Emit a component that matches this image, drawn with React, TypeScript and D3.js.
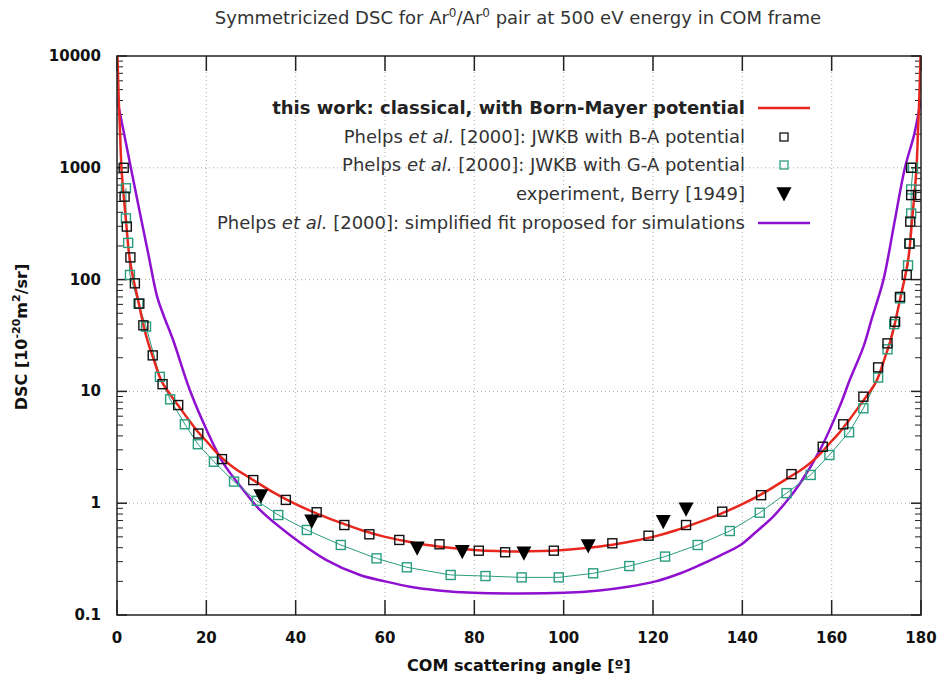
import React from "react";
import * as d3 from "d3";

// ---- data ----
const RED_ANGLE = [0.1, 0.4, 0.7, 1.0, 1.5, 2.0, 2.6, 3.0, 3.7, 4.5, 5.0, 6.0, 7.0, 8.0, 10, 12, 14, 16, 18, 20, 23, 26, 30, 35, 40, 45, 50, 55, 60, 65, 70, 75, 80, 85, 90, 95, 100, 105, 110, 115, 120, 125, 130, 135, 140, 145, 150, 154, 157, 160, 162, 164, 166, 168, 170, 172, 173, 174, 175, 175.5, 176.3, 177, 177.4, 178, 178.5, 179, 179.3, 179.6, 179.9];
const RED_DSC = [10000, 4000, 2000, 1000, 560, 340, 184, 140, 100, 72, 58, 38, 27, 20.5, 12.3, 9.3, 7.2, 5.6, 4.4, 3.6, 2.65, 2.1, 1.66, 1.25, 0.98, 0.8, 0.67, 0.57, 0.5, 0.455, 0.42, 0.397, 0.382, 0.373, 0.37, 0.373, 0.382, 0.397, 0.42, 0.455, 0.5, 0.57, 0.67, 0.8, 0.98, 1.25, 1.66, 2.1, 2.65, 3.6, 4.4, 5.6, 7.2, 9.3, 12.3, 20.5, 27, 38, 58, 72, 100, 140, 184, 340, 560, 1000, 2000, 4000, 10000];

const PURPLE_ANGLE = [0, 1.5, 3.1, 5, 7, 9, 10.5, 12.6, 16.3, 20.1, 23.8, 28.3, 32, 38.7, 46.9, 54.4, 60, 65.6, 72, 79.8, 90, 100, 108, 114.4, 120.6, 126, 130.5, 135, 139.5, 143, 146.9, 150, 152.9, 157.4, 161.9, 164, 167.1, 169, 171.6, 174, 176.4, 178.5, 180];
const PURPLE_DSC = [4100, 2100, 1000, 420, 170, 70, 47, 28.5, 10.3, 4.5, 2.28, 1.31, 0.87, 0.52, 0.31, 0.228, 0.2, 0.179, 0.166, 0.158, 0.156, 0.158, 0.166, 0.179, 0.2, 0.235, 0.28, 0.34, 0.42, 0.55, 0.76, 1.05, 1.5, 3.0, 7.5, 12.5, 25, 45, 100, 316, 1000, 2000, 4100];

const BA_ANGLE = [1.5, 1.7, 2.2, 3.0, 4.0, 5.0, 5.9, 8.0, 10.2, 13.7, 18.2, 23.5, 30.5, 37.8, 44.7, 50.9, 56.5, 63.2, 72.2, 81.0, 86.9, 97.8, 110.9, 119.0, 127.4, 135.5, 144.2, 151.0, 158.0, 162.6, 167.1, 170.4, 172.5, 174.2, 175.3, 176.8, 177.4, 177.6, 177.8, 179.3, 177.8];
const BA_DSC = [1000, 552, 298, 158, 92.6, 61, 39, 21, 11.6, 7.55, 4.2, 2.48, 1.61, 1.07, 0.83, 0.638, 0.527, 0.469, 0.429, 0.376, 0.364, 0.376, 0.438, 0.512, 0.638, 0.84, 1.18, 1.82, 3.2, 5.08, 8.97, 16.4, 26.9, 42, 70, 110, 210, 330, 570, 570, 1000];

const GA_ANGLE = [2.0, 2.0, 2.5, 2.9, 4.8, 6.5, 9.6, 11.9, 15.2, 18.1, 21.7, 26.2, 31.3, 36.1, 42.5, 50.1, 58.1, 64.9, 74.7, 82.5, 90.6, 98.9, 106.6, 114.7, 122.7, 130.0, 137.2, 143.9, 149.9, 155.3, 159.5, 163.9, 167.1, 170.4, 172.5, 174.0, 175.3, 177.1, 177.5, 177.8, 177.8, 178.2];
const GA_DSC = [656, 353, 213, 110, 61, 38, 13.5, 8.5, 5.08, 3.37, 2.35, 1.56, 1.05, 0.784, 0.576, 0.423, 0.321, 0.267, 0.228, 0.223, 0.217, 0.217, 0.236, 0.274, 0.333, 0.423, 0.564, 0.822, 1.23, 1.79, 2.7, 4.31, 7.06, 13.3, 23.8, 40, 68, 134, 210, 390, 640, 1000];

const BERRY_ANGLE = [32.2, 43.6, 67.2, 77.3, 91.1, 105.5, 122.3, 127.4];
const BERRY_DSC = [1.16, 0.69, 0.395, 0.368, 0.356, 0.414, 0.684, 0.881];

const X_TICKS = [0, 20, 40, 60, 80, 100, 120, 140, 160, 180];
const Y_TICKS = [0.1, 1, 10, 100, 1000, 10000];
const Y_TICK_LABELS = ["0.1", "1", "10", "100", "1000", "10000"];

const RED = "#e8281e";
const PURPLE = "#9010d0";
const TEAL = "#2a9d7f";
const TEXT = "#333333";

export default function App() {
  const L = 117, R = 921, T = 56, B = 615;
  const x = d3.scaleLinear().domain([0, 180]).range([L, R]);
  const y = d3.scaleLog().domain([0.1, 10000]).range([B, T]);

  const line = d3.line<[number, number]>().x(d => x(d[0])).y(d => y(d[1])).curve(d3.curveCatmullRom.alpha(0.5));
  const lineLin = d3.line<[number, number]>().x(d => x(d[0])).y(d => y(d[1]));

  const redPts = RED_ANGLE.map((a, i) => [a, RED_DSC[i]] as [number, number]);
  const purplePts = PURPLE_ANGLE.map((a, i) => [a, PURPLE_DSC[i]] as [number, number]);
  const baPts = BA_ANGLE.map((a, i) => [a, BA_DSC[i]] as [number, number]);
  const gaPts = GA_ANGLE.map((a, i) => [a, GA_DSC[i]] as [number, number]);
  const berryPts = BERRY_ANGLE.map((a, i) => [a, BERRY_DSC[i]] as [number, number]);

  const minors: number[] = [];
  for (let e = -1; e < 4; e++) {
    for (let m = 2; m <= 9; m++) minors.push(m * Math.pow(10, e));
  }

  const font = "DejaVu Sans, sans-serif";
  const sq = 9;
  const tri = (cx: number, cy: number, w: number) =>
    `M${cx - w / 2},${cy - w * 0.45}L${cx + w / 2},${cy - w * 0.45}L${cx},${cy + w * 0.5}Z`;

  const legendRows = [108, 137, 165, 194, 223];
  const legX = 745;
  const legMark = 784;

  return (
    <div style={{ position: "absolute", left: 0, top: 0 }}>
      <svg width={945} height={681} style={{ display: "block", background: "#fff" }} fontFamily={font}>
        <defs>
          <clipPath id="plotclip">
            <rect x={L} y={T} width={R - L} height={B - T} />
          </clipPath>
        </defs>
        {/* title */}
        <text x={518} y={24} textAnchor="middle" fontSize={18} fill={TEXT}>
          Symmetricized DSC for Ar<tspan dy={-7} fontSize={12}>0</tspan>
          <tspan dy={7}>/Ar</tspan>
          <tspan dy={-7} fontSize={12}>0</tspan>
          <tspan dy={7}> pair at 500 eV energy in COM frame</tspan>
        </text>

        {/* grid */}
        {X_TICKS.filter(t => t > 0 && t < 180).map(t => (
          <line key={"gx" + t} x1={x(t)} x2={x(t)} y1={T} y2={B} stroke="#aaa" strokeWidth={1} strokeDasharray="1,3" />
        ))}
        {Y_TICKS.filter(t => t > 0.1 && t < 10000).map(t => (
          <line key={"gy" + t} x1={L} x2={R} y1={y(t)} y2={y(t)} stroke="#aaa" strokeWidth={1} strokeDasharray="1,3" />
        ))}

        {/* ticks */}
        {X_TICKS.map(t => (
          <g key={"tx" + t}>
            <line x1={x(t)} x2={x(t)} y1={B} y2={B - 15} stroke="#222" strokeWidth={1.5} />
            <line x1={x(t)} x2={x(t)} y1={T} y2={T + 15} stroke="#222" strokeWidth={1.5} />
            <text x={x(t)} y={643} textAnchor="middle" fontSize={15} fontWeight="bold" fill="#111">{t}</text>
          </g>
        ))}
        {Y_TICKS.map((t, i) => (
          <g key={"ty" + t}>
            <line x1={L} x2={L + 10} y1={y(t)} y2={y(t)} stroke="#222" strokeWidth={1.5} />
            <line x1={R} x2={R - 10} y1={y(t)} y2={y(t)} stroke="#222" strokeWidth={1.5} />
            <text x={101} y={y(t) + 5} textAnchor="end" fontSize={15} fontWeight="bold" fill="#111">{Y_TICK_LABELS[i]}</text>
          </g>
        ))}
        {minors.map(t => (
          <g key={"mn" + t}>
            <line x1={L} x2={L + 6} y1={y(t)} y2={y(t)} stroke="#222" strokeWidth={1} />
            <line x1={R} x2={R - 6} y1={y(t)} y2={y(t)} stroke="#222" strokeWidth={1} />
          </g>
        ))}

        {/* legend */}
        <text x={legX} y={legendRows[0] + 6} textAnchor="end" fontSize={18} fontWeight="bold" fill="#222">this work: classical, with Born-Mayer potential</text>
        <text x={legX} y={legendRows[1] + 6} textAnchor="end" fontSize={18} fill={TEXT}>
          Phelps <tspan fontStyle="italic">et al.</tspan> [2000]: JWKB with B-A potential
        </text>
        <text x={legX} y={legendRows[2] + 6} textAnchor="end" fontSize={18} fill={TEXT}>
          Phelps <tspan fontStyle="italic">et al.</tspan> [2000]: JWKB with G-A potential
        </text>
        <text x={legX} y={legendRows[3] + 6} textAnchor="end" fontSize={18} fill={TEXT}>experiment, Berry [1949]</text>
        <text x={legX} y={legendRows[4] + 6} textAnchor="end" fontSize={18} fill={TEXT}>
          Phelps <tspan fontStyle="italic">et al.</tspan> [2000]: simplified fit proposed for simulations
        </text>
        <line x1={758} x2={810} y1={legendRows[0]} y2={legendRows[0]} stroke={RED} strokeWidth={2.5} />
        <rect x={legMark - 4} y={legendRows[1] - 4} width={8} height={8} fill="none" stroke="#111" strokeWidth={1.3} />
        <rect x={legMark - 4} y={legendRows[2] - 4} width={8} height={8} fill="none" stroke={TEAL} strokeWidth={1.3} />
        <path d={tri(legMark, legendRows[3], 15)} fill="#000" />
        <line x1={758} x2={810} y1={legendRows[4]} y2={legendRows[4]} stroke={PURPLE} strokeWidth={2.5} />

        {/* data */}
        <g clipPath="url(#plotclip)">
          <path d={line(purplePts) || ""} fill="none" stroke={PURPLE} strokeWidth={2.5} />
          <path d={lineLin(gaPts) || ""} fill="none" stroke={TEAL} strokeWidth={1} />
          <path d={line(redPts) || ""} fill="none" stroke={RED} strokeWidth={2.5} />
          {gaPts.map((p, i) => (
            <rect key={"ga" + i} x={x(p[0]) - sq / 2} y={y(p[1]) - sq / 2} width={sq} height={sq} fill="none" stroke={TEAL} strokeWidth={1.4} />
          ))}
          {baPts.map((p, i) => (
            <rect key={"ba" + i} x={x(p[0]) - sq / 2} y={y(p[1]) - sq / 2} width={sq} height={sq} fill="none" stroke="#111" strokeWidth={1.4} />
          ))}
          {berryPts.map((p, i) => (
            <path key={"bt" + i} d={tri(x(p[0]), y(p[1]), 15)} fill="#000" />
          ))}
        </g>

        {/* frame */}
        <rect x={L} y={T} width={R - L} height={B - T} fill="none" stroke="#222" strokeWidth={1.5} />

        {/* axis titles */}
        <text x={519} y={671} textAnchor="middle" fontSize={16} fontWeight="bold" fill="#111">COM scattering angle [º]</text>
        <text transform="translate(27,337) rotate(-90)" textAnchor="middle" fontSize={16} fontWeight="bold" fill="#111">
          DSC [10<tspan dy={-7} fontSize={11}>-20</tspan>
          <tspan dy={7}>m</tspan>
          <tspan dy={-7} fontSize={11}>2</tspan>
          <tspan dy={7}>/sr]</tspan>
        </text>
      </svg>
    </div>
  );
}
